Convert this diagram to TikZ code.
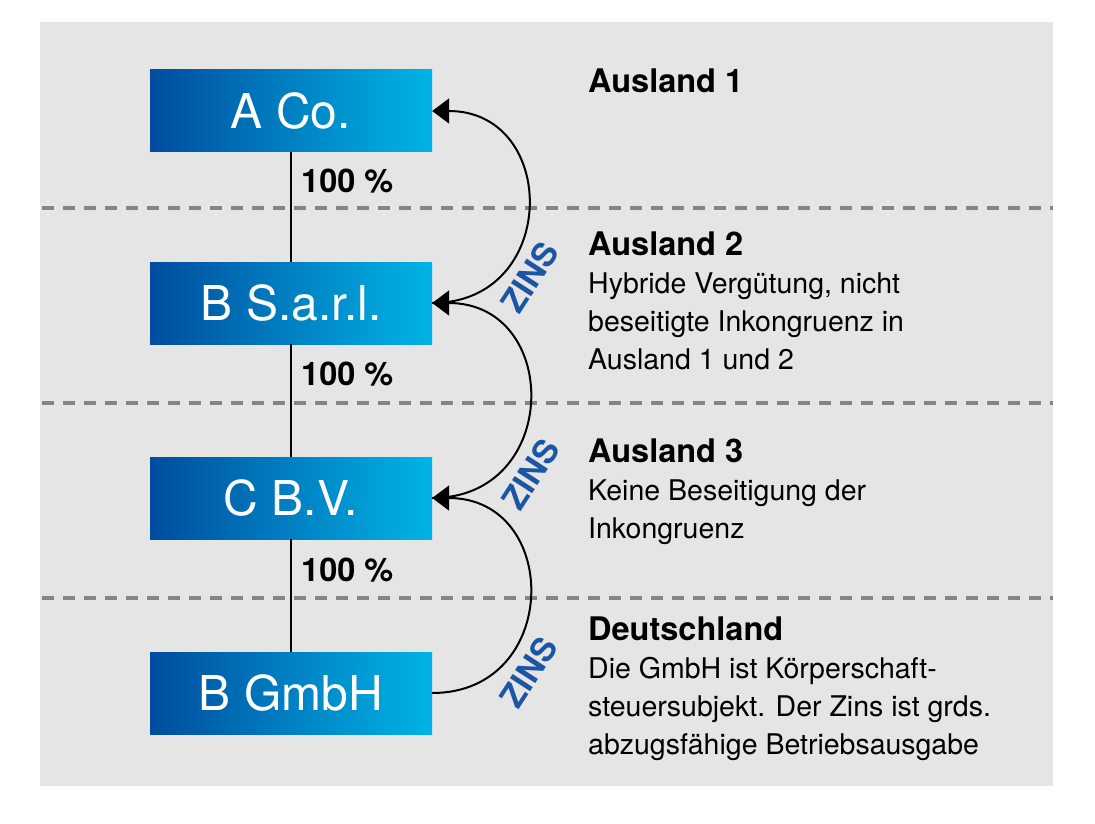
\documentclass[tikz,border=0pt]{standalone}
\usepackage{fontspec}
\setmainfont{TeX Gyre Heros}
\usetikzlibrary{arrows.meta}
\definecolor{panelgray}{HTML}{E5E5E5}
\definecolor{rulegray}{HTML}{858585}
\definecolor{boxdark}{HTML}{004C9E}
\definecolor{boxlight}{HTML}{00B4E6}
\definecolor{zinsblue}{HTML}{1C55A4}
\begin{document}
\begin{tikzpicture}[x=1pt,y=-1pt,
    firm/.style={rectangle,minimum width=282pt,minimum height=82pt,inner sep=0pt,
      left color=boxdark,right color=boxlight,text=white,font=\fontsize{48}{48}\selectfont},
    share/.style={anchor=base west,inner sep=0pt,font=\fontsize{32.5}{32.5}\selectfont\bfseries},
    zins/.style={inner sep=0pt,text=zinsblue,font=\fontsize{33}{33}\selectfont\bfseries},
    land/.style={anchor=base west,inner sep=0pt,align=left,font=\fontsize{28.5}{37.7}\selectfont},
    border/.style={rulegray,line width=3.2pt,dash pattern=on 12pt off 9pt},
    flow/.style={line width=2pt,-{Triangle[length=17pt,width=25pt]}}]
  \useasboundingbox (0,0) rectangle (1095,824);
  \fill[panelgray] (40,22) rectangle (1053,786);
  % country borders
  \draw[border] (42,208) -- (1053,208);
  \draw[border] (42,403) -- (1053,403);
  \draw[border] (42,598) -- (1053,598);
  % companies
  \draw
    (291,111) node[firm] (aco){A Co.}
    (291,303) node[firm] (bsarl){B S.a.r.l.}
    (291,498) node[firm] (cbv){C B.V.}
    (291,693) node[firm] (bgmbh){B GmbH};
  \begin{scope}[line width=2pt]
    \draw (aco) to (bsarl);
    \draw (bsarl) to (cbv);
    \draw (cbv) to (bgmbh);
  \end{scope}
  \node[share] (s1) at (301,192) {100~\%};
  \node[share] (s2) at (301,385) {100~\%};
  \node[share] (s3) at (301,581) {100~\%};
  % interest flows
  \begin{scope}[flow]
    \draw (bsarl.east) to[out=0,in=0,looseness=1.7] (aco.east);
    \draw (cbv.east) to[out=0,in=0,looseness=1.7] (bsarl.east);
    \draw (bgmbh.east) to[out=0,in=0,looseness=1.7] (cbv.east);
  \end{scope}
  \node[zins,rotate=57] (z1) at (530,277) {ZINS};
  \node[zins,rotate=57] (z2) at (531,474) {ZINS};
  \node[zins,rotate=57] (z3) at (529,672) {ZINS};
  % countries (anchored at the last line)
  \node[land] (l1) at (588,93) {\fontsize{32.5}{37.7}\selectfont\bfseries Ausland 1};
  \node[land] (l2) at (588,369) {{\fontsize{32.5}{37.7}\selectfont\bfseries Ausland 2}\\
    Hybride Vergütung, nicht\\beseitigte Inkongruenz in\\Ausland 1 und 2};
  \node[land] (l3) at (588,538) {{\fontsize{32.5}{37.7}\selectfont\bfseries Ausland 3}\\
    Keine Beseitigung der\\Inkongruenz};
  \node[land] (l4) at (588,754) {{\fontsize{32.5}{37.7}\selectfont\bfseries Deutschland}\\
    Die GmbH ist Körperschaft-\\steuersubjekt. Der Zins ist grds.\\abzugsfähige Betriebsausgabe};
\end{tikzpicture}
\end{document}
